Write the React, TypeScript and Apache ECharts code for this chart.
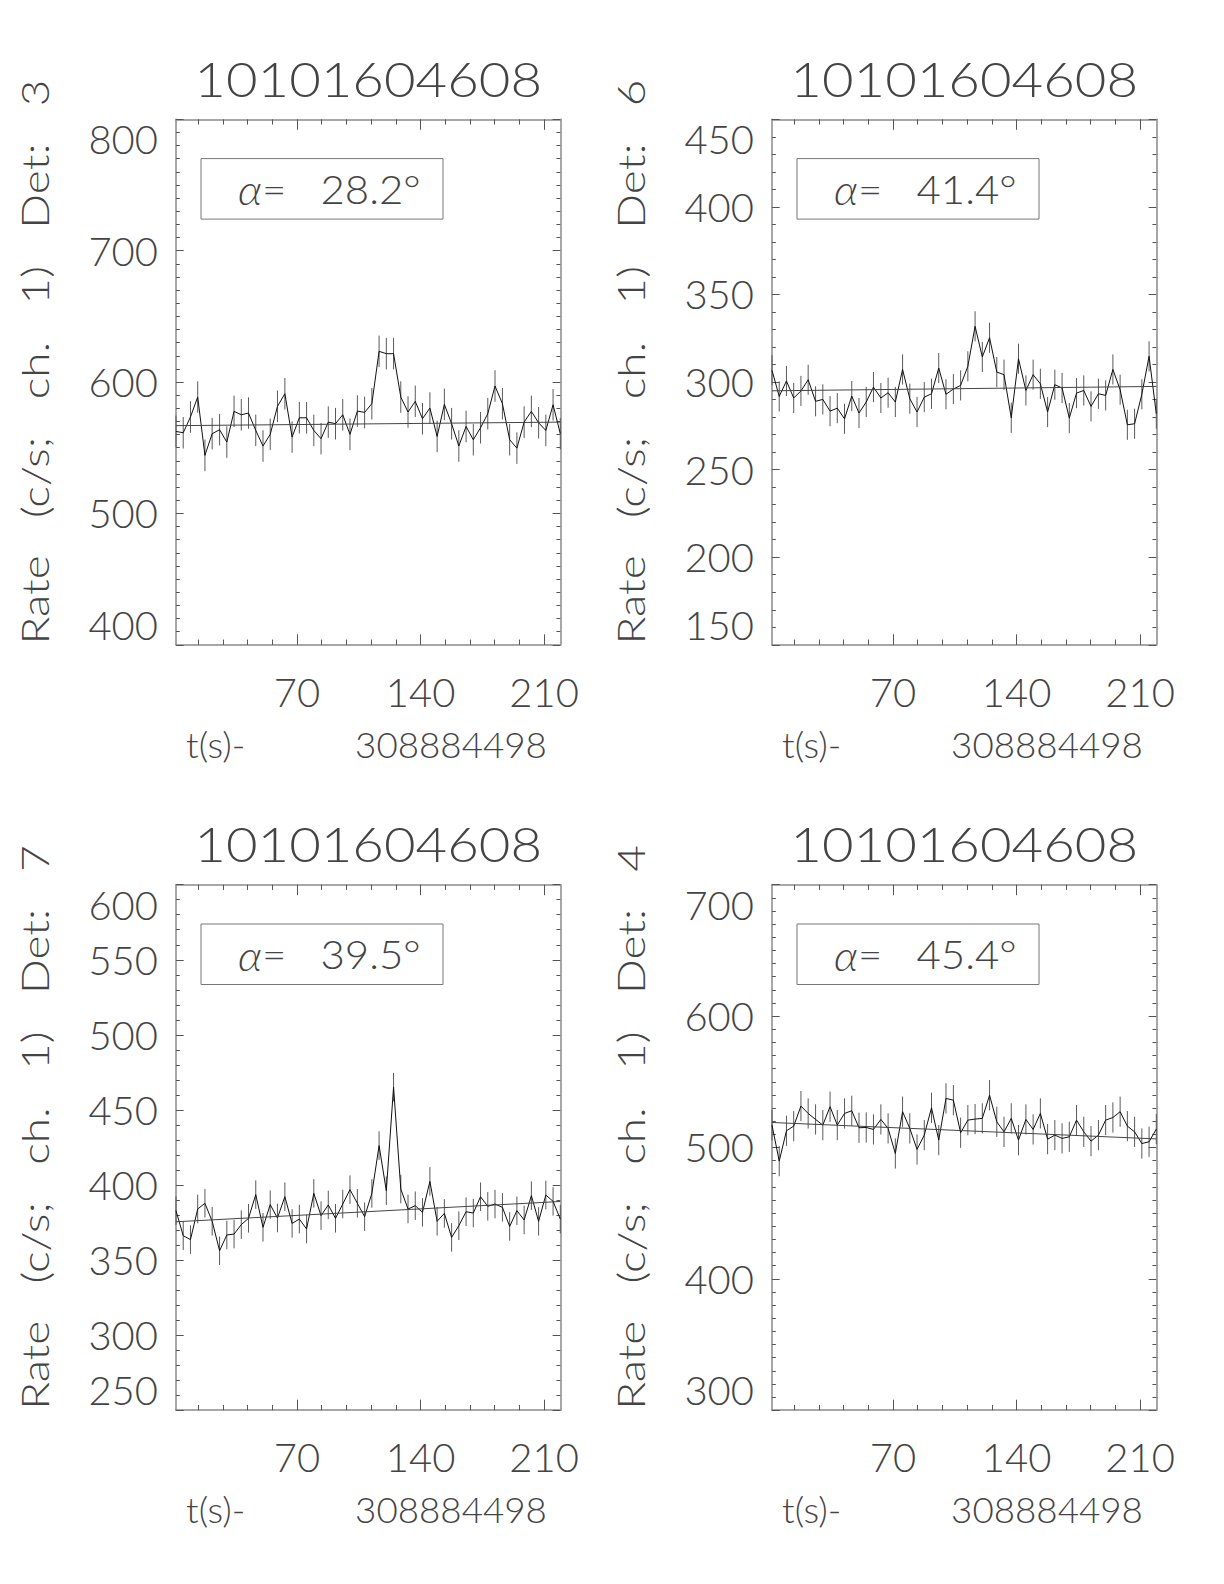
import React, { useEffect, useRef } from "react";
import * as echarts from "echarts";

// ---------- data ----------
const OBS_ID = "10101604608";
const T_REF = "308884498";
const TIME = [
  1.4, 5.5, 9.6, 13.7, 17.8, 21.9, 26.1, 30.2, 34.3, 38.4,
  42.5, 46.6, 50.7, 54.8, 58.9, 63.1, 67.2, 71.3, 75.4, 79.5,
  83.6, 87.7, 91.8, 95.9, 100.0, 104.2, 108.3, 112.4, 116.5, 120.6,
  124.7, 128.8, 132.9, 137.0, 141.1, 145.3, 149.4, 153.5, 157.6, 161.7,
  165.8, 169.9, 174.0, 178.1, 182.2, 186.4, 190.5, 194.6, 198.7, 202.8,
  206.9, 211.0, 215.1, 219.2,
];
const RATE_DET3 = [
  562.4, 561.4, 573.4, 588.6, 544.2, 560.7, 563.7, 554.3, 577.7, 575.1,
  576.4, 563.2, 551.3, 560.2, 581.5, 591.1, 558.1, 572.8, 572.8, 563.2,
  556.9, 569.5, 568.3, 575.1, 560.2, 577.9, 576.9, 583.5, 623.4, 621.6,
  621.6, 588.6, 577.2, 585.3, 572.1, 580.2, 558.6, 583.0, 568.3, 551.3,
  566.2, 556.1, 565.2, 575.9, 597.0, 583.5, 556.1, 549.7, 569.5, 577.7,
  569.0, 563.2, 582.7, 560.7,
];
const RATE_DET6 = [
  306.7, 291.8, 300.6, 290.9, 294.9, 301.3, 289.0, 290.1, 283.4, 285.1,
  279.0, 292.0, 282.3, 288.6, 297.1, 290.9, 293.9, 288.6, 307.2, 290.5,
  282.9, 291.4, 293.3, 308.0, 293.0, 296.0, 298.1, 309.0, 331.8, 314.3,
  325.3, 305.7, 304.2, 279.6, 313.3, 295.2, 304.2, 299.0, 282.9, 298.5,
  296.6, 279.4, 293.7, 295.2, 286.1, 293.3, 292.4, 307.2, 295.6, 275.6,
  276.2, 293.0, 314.7, 281.9,
];
const RATE_DET7 = [
  382.9, 366.2, 363.6, 384.0, 387.8, 375.8, 356.2, 366.7, 367.3, 373.6,
  377.8, 393.6, 371.8, 386.9, 378.0, 392.2, 374.4, 377.3, 370.7, 394.4,
  379.6, 386.7, 377.8, 387.3, 396.9, 387.8, 378.9, 394.4, 426.2, 396.2,
  465.2, 397.3, 384.0, 386.2, 381.8, 402.4, 375.8, 381.1, 365.1, 372.9,
  382.2, 381.3, 392.2, 385.8, 387.3, 385.1, 372.4, 382.9, 376.7, 392.9,
  375.8, 393.3, 389.1, 377.3,
];
const RATE_DET4 = [
  517.0, 489.6, 512.7, 516.2, 531.5, 525.9, 521.3, 517.0, 531.0, 517.0,
  525.9, 527.9, 515.0, 515.2, 513.7, 521.3, 514.5, 495.4, 527.2, 514.5,
  498.5, 509.4, 530.2, 505.6, 537.3, 536.0, 511.2, 520.8, 521.6, 522.1,
  539.8, 519.5, 511.9, 522.1, 505.6, 521.3, 513.7, 525.9, 506.3, 509.4,
  506.9, 508.1, 520.8, 511.9, 504.8, 509.4, 520.8, 522.8, 527.2, 516.2,
  511.9, 503.0, 504.3, 514.0,
];
const RATES = [RATE_DET3, RATE_DET6, RATE_DET7, RATE_DET4];
const RATE_ERR = [12, 8.6, 9.5, 11.5];
const DETECTORS = ["3", "6", "7", "4"];
const ALPHAS = ["28.2", "41.4", "39.5", "45.4"];
const FIT_START = [566.8, 295.0, 375.5, 519.0];
const FIT_END = [569.5, 297.5, 389.0, 506.5];
const Y_MIN = [400, 150, 250, 300];
const Y_MAX = [800, 450, 600, 700];
const Y_STEP = [100, 50, 50, 100];
const Y_MINOR_SPLIT = [10, 5, 5, 10];
const X_MAJOR = [70, 140, 210];
const X_MINOR = [14, 28, 42, 56, 84, 98, 112, 126, 154, 168, 182, 196];

// ---------- layout / style ----------
const GRID_LEFT = [176, 772, 176, 772];
const GRID_TOP = [119.3, 119.3, 884.7, 884.7];
const GW = 384.3;
const GH = 525.5;
const FONT = 'Lato, "DejaVu Sans", sans-serif';
const FW = 300;
const TEXT_COLOR = "#444";
const AXIS_COLOR = "#8a8a8a";
const TICK_COLOR = "#555";
const SP = "\u00a0";
const sp = (n: number) => SP.repeat(n);

function buildOption() {
  const grid: any[] = [];
  const xAxis: any[] = [];
  const yAxis: any[] = [];
  const series: any[] = [];
  const graphic: any[] = [];
  const tMin = TIME[0];
  const tMax = TIME[TIME.length - 1];

  for (let i = 0; i < 4; i++) {
    const gl = GRID_LEFT[i];
    const gt = GRID_TOP[i];
    grid.push({ left: gl, top: gt, width: GW, height: GH, containLabel: false });

    const xb = xAxis.length;
    const mkX = (pos: string, ticks: number[], len: number, line: boolean, labels: boolean) => ({
      type: "value",
      gridIndex: i,
      position: pos,
      min: tMin,
      max: tMax,
      axisLine: { show: line, onZero: false, lineStyle: { color: AXIS_COLOR, width: 1.5 } },
      axisTick: { show: true, inside: true, length: len, customValues: ticks, lineStyle: { color: TICK_COLOR, width: 1 } },
      axisLabel: labels
        ? { show: true, customValues: X_MAJOR, margin: 27, fontSize: 40, lineHeight: 40, fontFamily: FONT, fontWeight: FW, color: TEXT_COLOR }
        : { show: false },
      splitLine: { show: false },
    });
    xAxis.push(mkX("bottom", X_MAJOR, 10.5, true, true));
    xAxis.push(mkX("bottom", X_MINOR, 5.25, false, false));
    xAxis.push(mkX("top", X_MAJOR, 10.5, true, false));
    xAxis.push(mkX("top", X_MINOR, 5.25, false, false));

    const yb = yAxis.length;
    const mkY = (pos: string, labels: boolean) => ({
      type: "value",
      gridIndex: i,
      position: pos,
      min: Y_MIN[i],
      max: Y_MAX[i],
      interval: Y_STEP[i],
      axisLine: { show: true, onZero: false, lineStyle: { color: AXIS_COLOR, width: 1.5 } },
      axisTick: { show: true, inside: true, length: 7.7, lineStyle: { color: TICK_COLOR, width: 1 } },
      minorTick: { show: true, splitNumber: Y_MINOR_SPLIT[i], length: 3.85, lineStyle: { color: TICK_COLOR, width: 1 } },
      axisLabel: labels
        ? {
            show: true,
            margin: 18,
            fontSize: 40,
            fontFamily: FONT,
            fontWeight: FW,
            color: TEXT_COLOR,
            verticalAlignMinLabel: "bottom",
            verticalAlignMaxLabel: "top",
          }
        : { show: false },
      splitLine: { show: false },
      minorSplitLine: { show: false },
    });
    yAxis.push(mkY("left", true));
    yAxis.push(mkY("right", false));

    const rates = RATES[i];
    const err = RATE_ERR[i];
    const pts = TIME.map((t, k) => [t, rates[k]]);

    series.push({
      type: "custom",
      xAxisIndex: xb,
      yAxisIndex: yb,
      data: pts,
      silent: true,
      renderItem: (_p: any, api: any) => {
        const x = api.value(0);
        const y = api.value(1);
        const lo = api.coord([x, y - err]);
        const hi = api.coord([x, y + err]);
        return {
          type: "line",
          shape: { x1: lo[0], y1: lo[1], x2: hi[0], y2: hi[1] },
          style: { stroke: "#5a5a5a", lineWidth: 1 },
        };
      },
    });
    series.push({
      type: "line",
      xAxisIndex: xb,
      yAxisIndex: yb,
      data: pts,
      showSymbol: false,
      symbol: "none",
      lineStyle: { color: "#111", width: 1 },
      silent: true,
    });
    series.push({
      type: "line",
      xAxisIndex: xb,
      yAxisIndex: yb,
      data: [
        [tMin, FIT_START[i]],
        [tMax, FIT_END[i]],
      ],
      showSymbol: false,
      symbol: "none",
      lineStyle: { color: "#444", width: 1 },
      silent: true,
    });

    const baseStyle = { fontFamily: FONT, fontWeight: FW, fill: TEXT_COLOR };
    // title
    graphic.push({
      type: "text",
      x: gl + GW / 2,
      y: gt - 40.6,
      scaleX: 1.16,
      style: { ...baseStyle, text: OBS_ID, align: "center", verticalAlign: "middle", fontSize: 47 },
    });
    // y title
    graphic.push({
      type: "text",
      x: gl - 141,
      y: gt + GH / 2 - 20,
      rotation: Math.PI / 2,
      scaleX: 1.24,
      style: {
        ...baseStyle,
        text: `Rate${sp(3)}(c/s;${sp(3)}ch.${sp(3)}1)${sp(3)}Det:${sp(3)}${DETECTORS[i]}`,
        align: "center",
        verticalAlign: "middle",
        fontSize: 37,
      },
    });
    // x title
    graphic.push({
      type: "text",
      x: gl + 190.5,
      y: gt + GH + 100,
      scaleX: 1.05,
      style: {
        ...baseStyle,
        text: `t(s)-${sp(11)}${T_REF}`,
        align: "center",
        verticalAlign: "middle",
        fontSize: 35,
      },
    });
    // alpha box
    graphic.push({
      type: "rect",
      shape: { x: gl + 25, y: gt + 39.3, width: 242, height: 60.5 },
      style: { fill: "none", stroke: "#777", lineWidth: 1 },
    });
    graphic.push({
      type: "text",
      x: gl + 62,
      y: gt + 69.5,
      scaleX: 1.05,
      style: {
        ...baseStyle,
        text: `{a|α}=${sp(3)}${ALPHAS[i]}°`,
        rich: { a: { fontStyle: "italic", fontSize: 42, fontFamily: FONT, fontWeight: FW, fill: TEXT_COLOR } },
        align: "left",
        verticalAlign: "middle",
        fontSize: 40,
      },
    });
  }

  return {
    animation: false,
    backgroundColor: "#ffffff",
    grid,
    xAxis,
    yAxis,
    series,
    graphic,
  };
}

export default function App() {
  const ref = useRef<HTMLDivElement>(null);
  useEffect(() => {
    document.body.style.margin = "0";
    if (!ref.current) return;
    const chart = echarts.init(ref.current, undefined, { renderer: "svg" });
    chart.setOption(buildOption() as any);
    return () => chart.dispose();
  }, []);
  return <div ref={ref} style={{ width: 1224, height: 1584, background: "#fff" }} />;
}
